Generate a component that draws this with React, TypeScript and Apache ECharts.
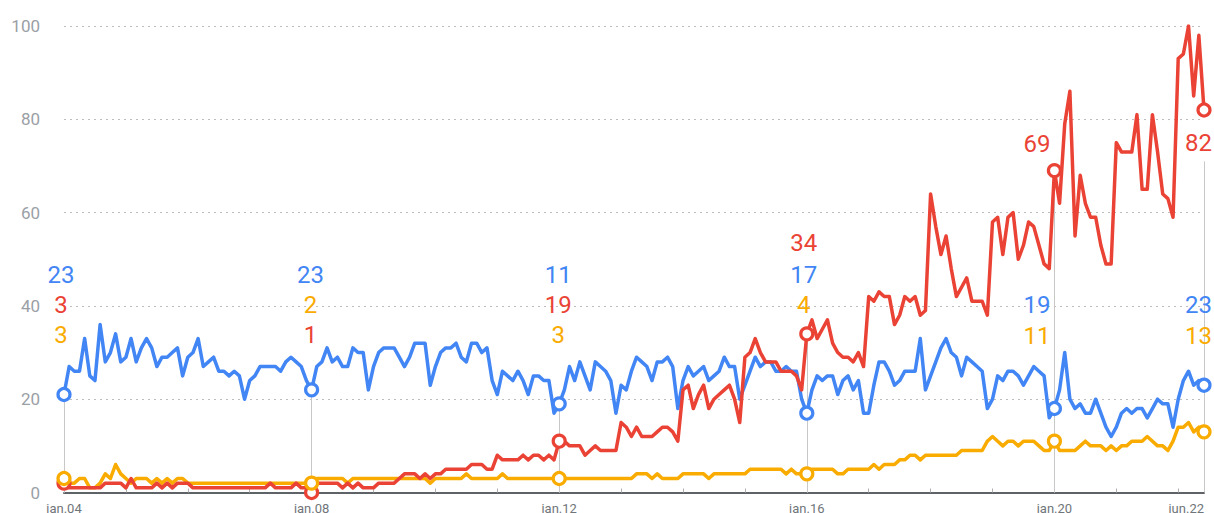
import React, { useEffect, useRef } from "react";
import * as echarts from "echarts";

// ---- data (monthly, jan.04 .. jun.22) ----
const blueValues = [
  21, 27, 26, 26, 33, 25, 24, 36, 28, 30, 34, 28, 29, 33, 28, 31, 33, 31, 27, 29, 29, 30, 31, 25, 29, 30, 33, 27, 28, 29, 26, 26, 25, 26, 25, 20, 24, 25, 27, 27,
  27, 27, 26, 28, 29, 28, 27, 24, 22, 27, 28, 31, 28, 29, 27, 27, 31, 30, 30, 22, 27, 30, 31, 31, 31, 29, 27, 29, 32, 32, 32, 23, 27, 30, 31, 31, 32, 29, 28, 32,
  32, 30, 31, 24, 21, 26, 25, 24, 26, 24, 21, 25, 25, 24, 24, 17, 19, 22, 27, 24, 28, 25, 22, 28, 27, 26, 24, 17, 23, 22, 26, 29, 28, 27, 24, 28, 28, 29, 27, 18,
  24, 27, 25, 26, 27, 24, 25, 26, 29, 27, 27, 20, 23, 26, 29, 27, 28, 28, 26, 26, 27, 26, 26, 20, 17, 22, 25, 24, 25, 25, 21, 24, 25, 22, 24, 17, 17, 23, 28, 28,
  26, 23, 24, 26, 26, 26, 33, 22, 25, 28, 31, 33, 30, 29, 25, 29, 28, 27, 26, 18, 20, 25, 24, 26, 26, 25, 23, 25, 27, 26, 25, 16, 18, 22, 30, 20, 18, 19, 17, 17, 20, 17,
  14, 12, 14, 17, 18, 17, 18, 18, 16, 18, 20, 19, 19, 14, 20, 24, 26, 23, 24, 23,
];
const redValues = [
  2, 1, 1, 1, 1, 1, 1, 1, 2, 2, 2, 2, 1, 3, 1, 1, 1, 1, 2, 1, 2, 1, 2, 2, 2, 1, 1, 1, 1, 1, 1, 1, 1, 1, 1, 1, 1, 1, 1, 1,
  2, 1, 1, 1, 1, 2, 1, 1, 0, 2, 2, 2, 2, 2, 1, 2, 1, 2, 1, 1, 1, 2, 2, 2, 2, 3, 4, 4, 4, 3, 4, 3, 4, 4, 5, 5, 5, 5, 5, 6,
  6, 6, 5, 5, 8, 7, 7, 7, 7, 8, 7, 8, 8, 7, 8, 7, 11, 11, 10, 10, 10, 8, 9, 10, 9, 9, 9, 9, 15, 14, 12, 14, 12, 12, 12, 13, 14, 14, 13, 11,
  22, 23, 18, 21, 23, 18, 20, 21, 22, 23, 20, 15, 29, 30, 33, 30, 28, 28, 28, 26, 26, 26, 25, 22, 34, 37, 33, 35, 37, 32, 30, 29, 29, 28, 30, 27, 42, 41, 43, 42,
  42, 36, 38, 42, 41, 42, 38, 39, 64, 57, 51, 55, 48, 42, 44, 46, 41, 41, 41, 38, 58, 59, 51, 59, 60, 50, 53, 58, 57, 53, 49, 48, 69, 62, 79, 86, 55, 68, 62, 59,
  59, 53, 49, 49, 75, 73, 73, 73, 81, 65, 65, 81, 73, 64, 63, 59, 93, 94, 100, 85, 98, 82,
];
const orangeValues = [
  3, 2, 2, 3, 3, 1, 1, 2, 4, 3, 6, 4, 3, 2, 3, 3, 3, 2, 3, 2, 3, 2, 3, 3, 2, 2, 2, 2, 2, 2, 2, 2, 2, 2, 2, 2, 2, 2, 2, 2,
  2, 2, 2, 2, 2, 2, 2, 2, 2, 3, 3, 3, 3, 3, 3, 2, 3, 3, 3, 3, 3, 3, 3, 3, 3, 3, 3, 3, 3, 3, 3, 2, 3, 3, 3, 3, 3, 3, 4, 3,
  3, 3, 3, 3, 3, 4, 3, 3, 3, 3, 3, 3, 3, 3, 3, 3, 3, 3, 3, 3, 3, 3, 3, 3, 3, 3, 3, 3, 3, 3, 3, 4, 4, 4, 3, 4, 3, 3, 3, 3,
  4, 4, 4, 4, 4, 3, 4, 4, 4, 4, 4, 4, 4, 5, 5, 5, 5, 5, 5, 5, 4, 5, 4, 4, 4, 5, 5, 5, 5, 5, 4, 4, 5, 5, 5, 5, 5, 6, 5, 6,
  6, 6, 7, 7, 8, 8, 7, 8, 8, 8, 8, 8, 8, 8, 9, 9, 9, 9, 9, 11, 12, 11, 10, 11, 11, 10, 11, 11, 11, 10, 9, 9, 11, 9, 9, 9, 9, 10, 11, 10,
  10, 10, 9, 10, 9, 10, 10, 11, 11, 11, 12, 11, 10, 10, 9, 11, 14, 14, 15, 13, 14, 13,
];

const monthNames = ["jan", "feb", "mar", "apr", "maj", "jun", "jul", "aug", "sep", "okt", "nov", "dec"];
const startYear = 2004;
const months = blueValues.map(
  (_, i) => `${monthNames[i % 12]}.${String((startYear + Math.floor(i / 12)) % 100).padStart(2, "0")}`
);
const labeledMonths = ["jan.04", "jan.08", "jan.12", "jan.16", "jan.20", "jun.22"];
const yTicks = [0, 20, 40, 60, 80, 100];

// annotation texts (as shown in the picture)
const blueLabels = ["23", "23", "11", "17", "19", "23"];
const redLabels = ["3", "1", "19", "34", "69", "82"];
const orangeLabels = ["3", "2", "3", "4", "11", "13"];

// ---- layout / style ----
const BLUE = "#4285f4";
const RED = "#ea4335";
const ORANGE = "#f9ab00";
const annIndex = labeledMonths.map((m) => months.indexOf(m));
const blueRow = [46.6, 46.6, 46.6, 46.6, 40.2, 40.2];
const redRow = [40.2, 33.8, 40.2, 53.5, 74.6, 75.0];
const orangeRow = [33.8, 40.2, 33.8, 40.2, 33.6, 33.6];
const labelAlign = ["center", "center", "center", "center", "right", "right"];
const labelDx = [-3, -1, -1, -3, -4, 8];
const lineTop = [21, 22, 19, 34, 69, 71];

function markPoints(values: number[], labels: string[], rows: number[], color: string, z: number) {
  const circles = annIndex.map((idx) => ({
    coord: [months[idx], values[idx]],
    symbol: "circle",
    symbolSize: 12,
    itemStyle: { color: "#fff", borderColor: color, borderWidth: 3.2 },
    label: { show: false },
  }));
  const texts = annIndex.map((idx, k) => ({
    coord: [months[idx], rows[k]],
    symbol: "circle",
    symbolSize: 0,
    itemStyle: { color: "rgba(0,0,0,0)" },
    label: {
      show: true,
      position: "inside",
      formatter: labels[k],
      color,
      fontSize: 24,
      fontFamily: "Roboto",
      align: labelAlign[k],
      verticalAlign: "middle",
      offset: [labelDx[k], 0],
    },
  }));
  return { silent: true, animation: false, z, data: [...circles, ...texts] };
}

function lineSeries(
  name: string,
  values: number[],
  color: string,
  labels: string[],
  rows: number[],
  z: number,
  markerZ: number
) {
  return {
    name,
    type: "line",
    data: values,
    showSymbol: false,
    symbol: "none",
    z,
    lineStyle: { color, width: 3.5, join: "round", cap: "round" },
    itemStyle: { color },
    emphasis: { disabled: true },
    markPoint: markPoints(values, labels, rows, color, markerZ),
  };
}

export default function App() {
  const ref = useRef<HTMLDivElement>(null);
  useEffect(() => {
    document.body.style.margin = "0";
    if (!ref.current) return;
    const chart = echarts.init(ref.current, undefined, { renderer: "svg" });
    const orange: any = lineSeries("orange", orangeValues, ORANGE, orangeLabels, orangeRow, 2, 8);
    const blue = lineSeries("blue", blueValues, BLUE, blueLabels, blueRow, 3, 7);
    const red = lineSeries("red", redValues, RED, redLabels, redRow, 4, 6);
    orange.markLine = {
      silent: true,
      symbol: ["none", "none"],
      z: 1,
      animation: false,
      label: { show: false },
      lineStyle: { color: "#c8c8c8", width: 1, type: "solid" },
      emphasis: { disabled: true },
      data: annIndex.map((idx, k) => [
        { coord: [months[idx], 0] },
        { coord: [months[idx], lineTop[k]] },
      ]),
    };
    chart.setOption({
      animation: false,
      textStyle: { fontFamily: "Roboto, sans-serif" },
      grid: { left: 64, right: 10, top: 26, bottom: 20.5, containLabel: false, outerBoundsMode: "none" },
      xAxis: {
        type: "category",
        data: months,
        boundaryGap: false,
        axisLine: { lineStyle: { color: "#5f6368", width: 2 } },
        axisTick: {
          show: true,
          inside: true,
          length: 4,
          interval: (i: number) => i % 12 === 0,
          lineStyle: { color: "#b0b0b0", width: 1 },
        },
        axisLabel: {
          interval: (_i: number, v: string) => labeledMonths.includes(v),
          color: "#70757a",
          fontSize: 13,
          margin: 9,
          alignMaxLabel: "right",
        },
        splitLine: { show: false },
      },
      yAxis: {
        type: "value",
        min: yTicks[0],
        max: yTicks[yTicks.length - 1],
        interval: yTicks[1] - yTicks[0],
        axisLine: { show: false },
        axisTick: { show: false },
        axisLabel: { color: "#9aa0a6", fontSize: 17, margin: 24 },
        splitLine: { lineStyle: { color: "#bdbdbd", width: 1, type: [2, 4] } },
      },
      series: [orange, blue, red],
    });
    return () => chart.dispose();
  }, []);
  return <div ref={ref} style={{ width: 1214, height: 513 }} />;
}
